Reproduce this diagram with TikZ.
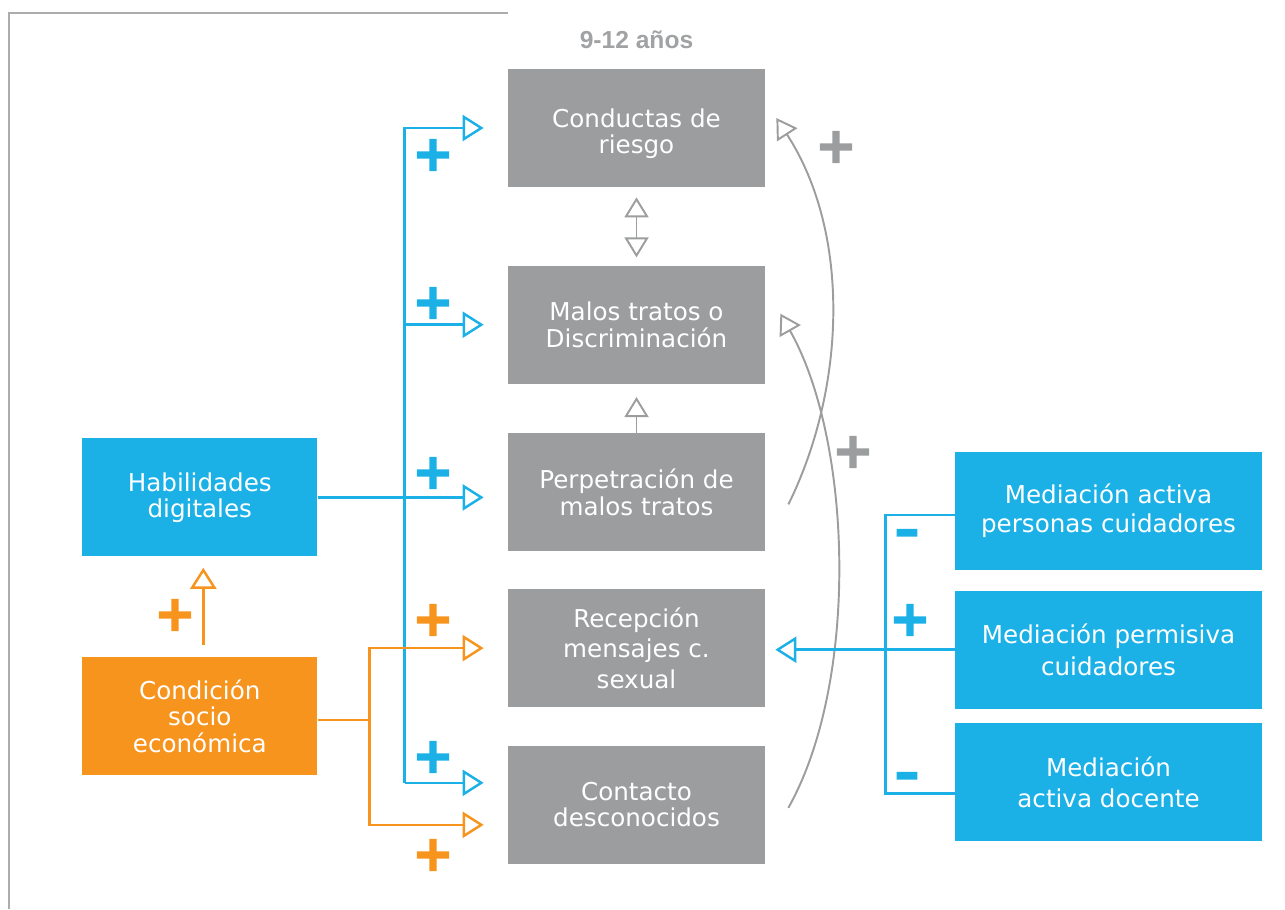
\documentclass[tikz,border=0pt]{standalone}
\usepackage{fontspec}
\setmainfont{DejaVu Sans}
\newfontfamily\titlefont{Liberation Sans}
\newfontfamily\signfont{DejaVu Sans Bold}[FakeBold=3]
\usetikzlibrary{positioning,arrows.meta}
\definecolor{mblue}{RGB}{27,177,230}
\definecolor{morange}{RGB}{247,148,30}
\definecolor{mgray}{RGB}{155,157,158}
\definecolor{mtitle}{RGB}{160,162,163}
\definecolor{mframe}{RGB}{172,172,172}

\begin{document}
\begin{tikzpicture}[
  box/.style={minimum height=2.36cm, inner sep=0pt, align=center, text=white, font=\fontsize{14}{15}\selectfont},
  gbox/.style={box, fill=mgray, minimum width=5.14cm},
  lbox/.style={box, minimum width=4.7cm},
  rbox/.style={box, fill=mblue, minimum width=6.14cm},
  tip/.style={-{Triangle[open,length=4.2mm,width=5.2mm]}},
  barrow/.style={tip, line width=1.4pt, color=mblue},
  bline/.style={line width=1.4pt, color=mblue},
  oarrow/.style={tip, line width=1.4pt, color=morange},
  garrow/.style={-{Triangle[open,length=4mm,width=4.8mm]}, line width=1.1pt, color=mgray},
  gdarrow/.style={{Triangle[open,length=4mm,width=4.8mm]}-{Triangle[open,length=4mm,width=4.8mm]}, line width=1.1pt, color=mgray},
  sgn/.style={inner sep=0pt, font=\signfont\fontsize{28}{28}\selectfont}
]
\useasboundingbox (0,0) rectangle (25.7,-18.18);
\draw[line width=0.9pt, mframe] (0.18,-18.18) |- (10.16,-0.26);

% central column
\node[gbox] (risk) at (12.73,-2.56) {\rule{0pt}{17pt}Conductas de\\riesgo};
\node[gbox, below=1.56cm of risk] (abuse) {Malos tratos o\\Discriminación};
\node[gbox, below=0.98cm of abuse] (perp) {Perpetración de\\malos tratos};
\node[gbox, below=0.74cm of perp] (sext) {Recepción\\[2.5pt]mensajes c.\\[2.5pt]sexual};
\node[gbox, below=0.76cm of sext] (strang) {Contacto\\desconocidos};
\node[font=\titlefont\bfseries\fontsize{14}{14}\selectfont, text=mtitle] (age) at (12.73,-0.8) {9-12 años};

% left and right boxes
\node[lbox, fill=mblue, left=3.8cm of perp, yshift=-1mm] (skill) {Habilidades\\digitales};
\node[lbox, fill=morange, below=2cm of skill] (ses) {Condición\\socio\\económica};
\node[rbox] (medp) at (22.17,-10.22) {Mediación activa\\[1.5pt]personas cuidadores};
\node[rbox, below=0.4cm of medp] (medperm) {Mediación permisiva\\[3pt]cuidadores};
\node[rbox, below=0.28cm of medperm] (medt) {Mediación\\[3pt]activa docente};

% blue links
\coordinate (btrunk) at ([xshift=-2.06cm,yshift=4.4mm]strang.west);
\draw[barrow] (btrunk) |- ([xshift=-4.8mm]risk.west);
\draw[barrow] (btrunk) |- ([xshift=-4.8mm]abuse.west);
\draw[barrow] (btrunk) -- ([xshift=-4.8mm]strang.west |- btrunk);
\draw[barrow] (skill.east) -- ([xshift=-4.8mm]perp.west |- skill.east);

% orange links
\coordinate (otrunk) at ([xshift=1.04cm,yshift=-0.8mm]ses.east);
\draw[oarrow] ([yshift=-0.8mm]ses.east) -- (otrunk) |- ([xshift=-4.8mm]sext.west);
\draw[oarrow] (otrunk) |- ([xshift=-4.8mm,yshift=-4mm]strang.west);
\draw[oarrow, shorten <=2.4mm, shorten >=2.2mm] ([xshift=0.07cm]ses.north) -- ([xshift=0.07cm]skill.south);

% gray links
\draw[gdarrow, shorten <=2mm, shorten >=1.6mm] (risk) -- (abuse);
\draw[garrow, shorten >=2.6mm] (perp) -- (abuse);
\draw[garrow] ([xshift=4.6mm,yshift=-2.4mm]perp.east) .. controls (16.9,-7.8) and (17.04,-4.7) .. ([xshift=2.2mm,yshift=2mm]risk.east);
\draw[garrow] ([xshift=4.6mm,yshift=-0.6mm]strang.east) .. controls (17.2,-13.6) and (17.04,-8.8) .. ([xshift=3mm,yshift=2.2mm]abuse.east);

% mediation
\draw[bline] ([yshift=-0.8mm]medp.west) -- ++(-1.38,0) |- ([yshift=-2.2mm]medt.west);
\draw[barrow] (medperm.west) -- ([xshift=2mm]sext.east |- medperm.west);

% signs
\node[sgn, text=mblue] (s1) at (8.66,-3.1) {+};
\node[sgn, text=mblue] (s2) at (8.66,-6.06) {+};
\node[sgn, text=mblue] (s3) at (8.66,-9.46) {+};
\node[sgn, text=mblue] (s4) at (8.66,-15.14) {+};
\node[sgn, text=morange] (s5) at (8.66,-12.4) {+};
\node[sgn, text=morange] (s6) at (8.66,-17.1) {+};
\node[sgn, text=morange] (s7) at (3.5,-12.3) {+};
\node[sgn, text=mgray] (s8) at (16.72,-2.94) {+};
\node[sgn, text=mgray] (s9) at (17.06,-9.04) {+};
\node[sgn, text=mblue] (s10) at (18.14,-10.76) {–};
\node[sgn, text=mblue] (s11) at (18.2,-12.4) {+};
\node[sgn, text=mblue] (s12) at (18.14,-15.62) {–};
\end{tikzpicture}
\end{document}
